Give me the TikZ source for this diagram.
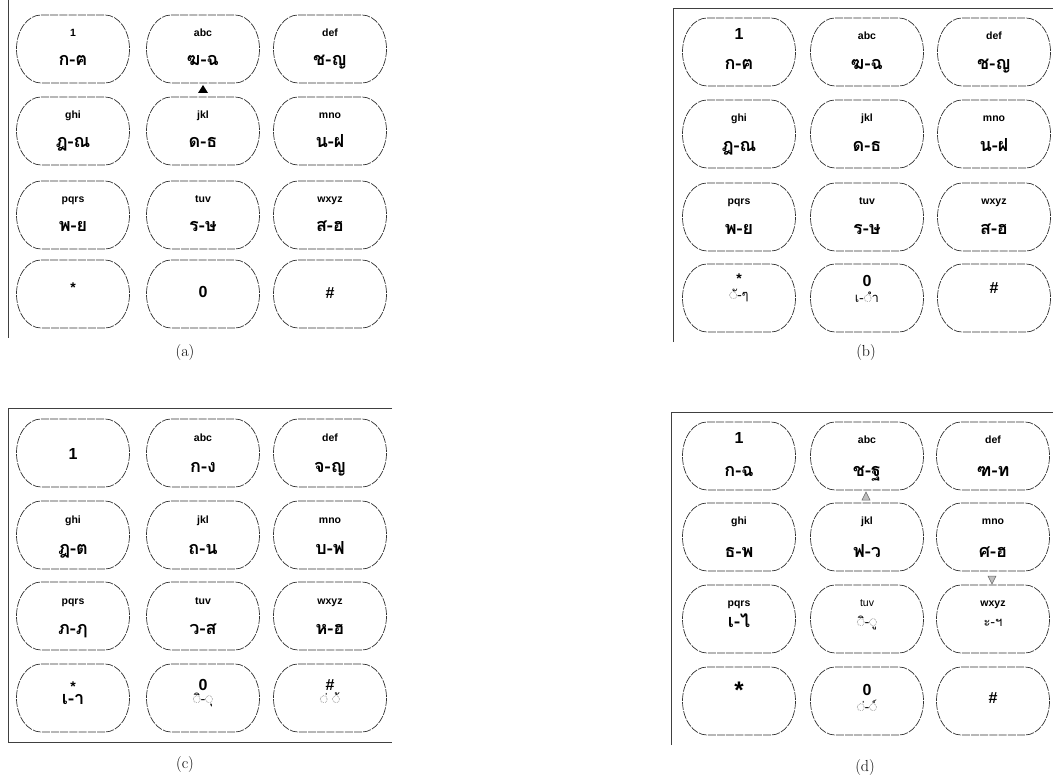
\documentclass[tikz,border=0pt]{standalone}
\usepackage{fontspec}
\newfontfamily\latn{Liberation Sans}
\newfontfamily\thai[Script=Thai]{Loma}
\usetikzlibrary{calc}

\tikzset{
  keyarea/.style={minimum width=113pt, minimum height=68pt, inner sep=0pt},
  keyline/.style={draw=black!80, line width=0.7pt, dash pattern=on 8pt off 1.2pt},
  padframe/.style={draw=black!75, line width=0.8pt},
  sml/.style={font=\latn\bfseries\fontsize{10.5}{10.5}\selectfont, inner sep=0pt, anchor=base},
  smlr/.style={font=\latn\fontsize{10.5}{10.5}\selectfont, inner sep=0pt, anchor=base},
  big/.style={font=\latn\bfseries\fontsize{16}{16}\selectfont, inner sep=0pt, anchor=base},
  bigc/.style={font=\latn\bfseries\fontsize{16}{16}\selectfont, inner sep=0pt},
  smlc/.style={font=\latn\bfseries\fontsize{14}{14}\selectfont, inner sep=0pt},
  starc/.style={font=\latn\bfseries\fontsize{24}{24}\selectfont, inner sep=0pt},
  thb/.style={font=\thai\bfseries\fontsize{18}{18}\selectfont, inner sep=0pt, anchor=base},
  thr/.style={font=\thai\fontsize{13}{13}\selectfont, inner sep=0pt, anchor=base},
  capt/.style={font=\fontsize{16}{16}\selectfont, inner sep=0pt},
}

% a key of the pad: name, x, y (flat top and bottom, elliptic ends)
\newcommand\pk[3]{%
  \node[keyarea] (#1) at (#2,#3) {};
  \draw[keyline] ($(#1)+(-32,-34)$) -- ($(#1)+(32,-34)$)
    arc[start angle=-90, end angle=90, x radius=24.5, y radius=34]
    -- ($(#1)+(-32,34)$)
    arc[start angle=90, end angle=270, x radius=24.5, y radius=34] -- cycle;}
% a label inside a key: key, suffix, style, vertical offset, text
\newcommand\lab[5]{\node[#3] (#1-#2) at ($(#1.center)+(0,#4)$) {#5};}

\begin{document}
\begin{tikzpicture}[x=1pt,y=-1pt]
\useasboundingbox (0,0) rectangle (1053,778);

% ---------------- pad (a)
\coordinate (fa0) at (8,0);
\coordinate (fa1) at (8,338);
\draw[padframe] (fa0) -- (fa1);
\pk{a1}{73}{49}   \lab{a1}{t}{sml}{-12}{1}    \lab{a1}{b}{thb}{17}{ก-ฅ}
\pk{a2}{203}{49}  \lab{a2}{t}{sml}{-12}{abc}  \lab{a2}{b}{thb}{17}{ฆ-ฉ}
\pk{a3}{330}{49}  \lab{a3}{t}{sml}{-12}{def}  \lab{a3}{b}{thb}{17}{ช-ญ}
\pk{a4}{73}{131}  \lab{a4}{t}{sml}{-12}{ghi}  \lab{a4}{b}{thb}{17}{ฎ-ณ}
\pk{a5}{203}{131} \lab{a5}{t}{sml}{-12}{jkl}  \lab{a5}{b}{thb}{17}{ด-ธ}
\pk{a6}{330}{131} \lab{a6}{t}{sml}{-12}{mno}  \lab{a6}{b}{thb}{17}{น-ฝ}
\pk{a7}{73}{215}  \lab{a7}{t}{sml}{-12}{pqrs} \lab{a7}{b}{thb}{17}{พ-ย}
\pk{a8}{203}{215} \lab{a8}{t}{sml}{-12}{tuv}  \lab{a8}{b}{thb}{17}{ร-ษ}
\pk{a9}{330}{215} \lab{a9}{t}{sml}{-12}{wxyz} \lab{a9}{b}{thb}{17}{ส-ฮ}
\pk{a10}{73}{294} \lab{a10}{c}{smlc}{-6}{*}
\pk{a11}{203}{294} \lab{a11}{c}{bigc}{-2}{0}
\pk{a12}{330}{294} \lab{a12}{c}{bigc}{-1}{\#}
\fill (198,93) -- (208,93) -- (203,85) -- cycle;
\node[capt] (capa) at (185,353) {(a)};

% ---------------- pad (b)
\coordinate (fb0) at (673,342);
\coordinate (fb1) at (673,8);
\coordinate (fb2) at (1053,8);
\draw[padframe] (fb0) -- (fb1) -- (fb2);
\pk{b1}{739}{52}   \lab{b1}{t}{big}{-12}{1}    \lab{b1}{b}{thb}{18}{ก-ฅ}
\pk{b2}{867}{52}   \lab{b2}{t}{sml}{-12}{abc}  \lab{b2}{b}{thb}{18}{ฆ-ฉ}
\pk{b3}{994}{52}   \lab{b3}{t}{sml}{-12}{def}  \lab{b3}{b}{thb}{18}{ช-ญ}
\pk{b4}{739}{134}  \lab{b4}{t}{sml}{-12}{ghi}  \lab{b4}{b}{thb}{18}{ฎ-ณ}
\pk{b5}{867}{134}  \lab{b5}{t}{sml}{-12}{jkl}  \lab{b5}{b}{thb}{18}{ด-ธ}
\pk{b6}{994}{134}  \lab{b6}{t}{sml}{-12}{mno}  \lab{b6}{b}{thb}{18}{น-ฝ}
\pk{b7}{739}{217}  \lab{b7}{t}{sml}{-12}{pqrs} \lab{b7}{b}{thb}{18}{พ-ย}
\pk{b8}{867}{217}  \lab{b8}{t}{sml}{-12}{tuv}  \lab{b8}{b}{thb}{18}{ร-ษ}
\pk{b9}{994}{217}  \lab{b9}{t}{sml}{-12}{wxyz} \lab{b9}{b}{thb}{18}{ส-ฮ}
\pk{b10}{739}{298} \lab{b10}{t}{smlc}{-19}{*}  \lab{b10}{b}{thr}{2}{◌ั-ๆ}
\pk{b11}{867}{298} \lab{b11}{t}{big}{-11}{0}   \lab{b11}{b}{thr}{4}{เ-◌ำ}
\pk{b12}{994}{298} \lab{b12}{c}{bigc}{-10}{\#}
\node[capt] (capb) at (866,353) {(b)};

% ---------------- pad (c)
\coordinate (fc0) at (392,408);
\coordinate (fc1) at (8,408);
\coordinate (fc2) at (8,742);
\coordinate (fc3) at (392,742);
\draw[padframe] (fc0) -- (fc1) -- (fc2) -- (fc3);
\pk{c1}{73}{453}   \lab{c1}{c}{bigc}{1}{1}
\pk{c2}{203}{453}  \lab{c2}{t}{sml}{-12}{abc}  \lab{c2}{b}{thb}{19}{ก-ง}
\pk{c3}{330}{453}  \lab{c3}{t}{sml}{-12}{def}  \lab{c3}{b}{thb}{19}{จ-ญ}
\pk{c4}{73}{535}   \lab{c4}{t}{sml}{-12}{ghi}  \lab{c4}{b}{thb}{19}{ฎ-ต}
\pk{c5}{203}{535}  \lab{c5}{t}{sml}{-12}{jkl}  \lab{c5}{b}{thb}{19}{ถ-น}
\pk{c6}{330}{535}  \lab{c6}{t}{sml}{-12}{mno}  \lab{c6}{b}{thb}{19}{บ-ฟ}
\pk{c7}{73}{616}   \lab{c7}{t}{sml}{-12}{pqrs} \lab{c7}{b}{thb}{18}{ภ-ฦ}
\pk{c8}{203}{616}  \lab{c8}{t}{sml}{-12}{tuv}  \lab{c8}{b}{thb}{18}{ว-ส}
\pk{c9}{330}{616}  \lab{c9}{t}{sml}{-12}{wxyz} \lab{c9}{b}{thb}{18}{ห-ฮ}
\pk{c10}{73}{698}  \lab{c10}{t}{smlc}{-11}{*}  \lab{c10}{b}{thb}{6}{เ-า}
\pk{c11}{203}{698} \lab{c11}{t}{big}{-8}{0}    \lab{c11}{b}{thr}{5}{◌ิ-◌ุ}
\pk{c12}{330}{698} \lab{c12}{t}{big}{-8}{\#}   \lab{c12}{b}{thr}{5}{◌่ ◌้}
\node[capt] (capc) at (185,765) {(c)};

% ---------------- pad (d)
\coordinate (fd0) at (671,745);
\coordinate (fd1) at (671,412);
\coordinate (fd2) at (1053,412);
\draw[padframe] (fd0) -- (fd1) -- (fd2);
\pk{d1}{739}{456}  \lab{d1}{t}{big}{-13}{1}    \lab{d1}{b}{thb}{20}{ก-ฉ}
\pk{d2}{867}{456}  \lab{d2}{t}{sml}{-13}{abc}  \lab{d2}{b}{thb}{20}{ช-ฐ}
\pk{d3}{993}{456}  \lab{d3}{t}{sml}{-13}{def}  \lab{d3}{b}{thb}{20}{ฑ-ท}
\pk{d4}{739}{537}  \lab{d4}{t}{sml}{-13}{ghi}  \lab{d4}{b}{thb}{20}{ธ-พ}
\pk{d5}{867}{537}  \lab{d5}{t}{sml}{-13}{jkl}  \lab{d5}{b}{thb}{20}{ฟ-ว}
\pk{d6}{993}{537}  \lab{d6}{t}{sml}{-13}{mno}  \lab{d6}{b}{thb}{20}{ศ-ฮ}
\pk{d7}{739}{619}  \lab{d7}{t}{sml}{-13}{pqrs} \lab{d7}{b}{thb}{8}{เ-ไ}
\pk{d8}{867}{619}  \lab{d8}{t}{smlr}{-13}{tuv} \lab{d8}{b}{thr}{7}{◌ิ-◌ู}
\pk{d9}{993}{619}  \lab{d9}{t}{sml}{-13}{wxyz} \lab{d9}{b}{thr}{7}{ะ-ฯ}
\pk{d10}{739}{701} \lab{d10}{c}{starc}{-11}{*}
\pk{d11}{867}{701} \lab{d11}{t}{big}{-6}{0}    \lab{d11}{b}{thr}{10}{◌่-◌์}
\pk{d12}{993}{701} \lab{d12}{c}{bigc}{-3}{\#}
\draw[black!60, fill=black!25, line width=0.5pt] (862,500) -- (870,500) -- (866,492) -- cycle;
\draw[black!60, fill=black!25, line width=0.5pt] (988,576) -- (996,576) -- (992,584) -- cycle;
\node[capt] (capd) at (865,768) {(d)};
\end{tikzpicture}
\end{document}
